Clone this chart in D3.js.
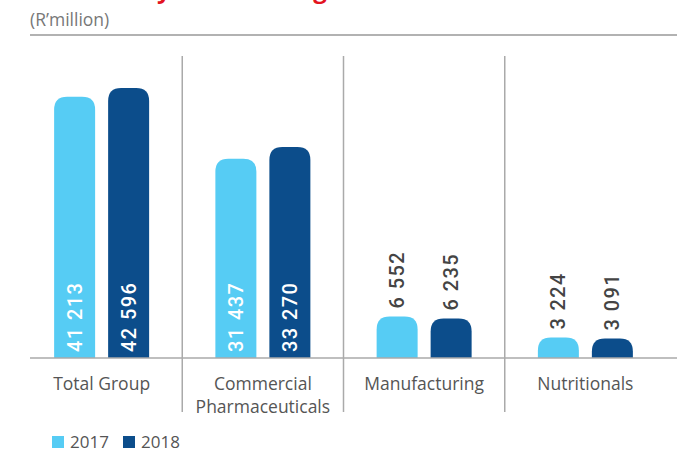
<!DOCTYPE html>
<html>
<head>
<meta charset="utf-8">
<script src="https://cdn.jsdelivr.net/npm/d3@7"></script>
<style>
  body { margin: 0; background: #fff; }
  svg { display: block; }
</style>
</head>
<body>
<div id="chart"></div>
<script>
const categories = ["Total Group", "Commercial Pharmaceuticals", "Manufacturing", "Nutritionals"];
const categoryLines = [["Total Group"], ["Commercial", "Pharmaceuticals"], ["Manufacturing"], ["Nutritionals"]];
const years = ["2017", "2018"];
const values2017 = [41213, 31437, 6552, 3224];
const values2018 = [42596, 33270, 6235, 3091];
const colors = ["#56ccf4", "#0c4d8b"];

const width = 677, height = 452;
const baseY = 358;

const svg = d3.select("#chart")
  .append("svg")
  .attr("width", width)
  .attr("height", height);

const data = categories.map((c, i) => ({ cat: c, vals: [values2017[i], values2018[i]] }));
const fmt = v => d3.format(",")(v).replace(/,/g, " ");

const x0 = d3.scaleBand().domain(categories).range([21, 666]);
const x1 = d3.scaleBand().domain(years).range([0, 95]).paddingInner(13 / 54);
const y = d3.scaleLinear()
  .domain([0, d3.max(values2018.concat(values2017))])
  .range([baseY, 88]);

// cut-off title at very top
svg.append("text")
  .attr("x", 32)
  .attr("y", -2)
  .attr("fill", "#e3141f")
  .attr("font-family", "Open Sans")
  .attr("font-weight", 700)
  .attr("font-size", 24)
  .text("Revenue by business segment");

svg.append("text")
  .attr("x", 30)
  .attr("y", 26)
  .attr("fill", "#777")
  .attr("font-family", "Open Sans")
  .attr("font-size", 17.5)
  .text("(R\u2019million)");

svg.append("line")
  .attr("x1", 30).attr("x2", width)
  .attr("y1", 35).attr("y2", 35)
  .attr("stroke", "#999").attr("stroke-width", 1.5);

// separators between groups
svg.append("g")
  .selectAll("line")
  .data(categories.slice(1))
  .join("line")
  .attr("x1", d => x0(d)).attr("x2", d => x0(d))
  .attr("y1", 56).attr("y2", 412)
  .attr("stroke", "#aaa").attr("stroke-width", 1.5);

const off = (x0.bandwidth() - 95) / 2;
const r = 13;
const barPath = (x, w, yt) => {
  const h = baseY - yt, rr = Math.min(r, h, w / 2);
  return `M${x},${baseY}V${yt + rr}Q${x},${yt} ${x + rr},${yt}H${x + w - rr}Q${x + w},${yt} ${x + w},${yt + rr}V${baseY}Z`;
};

const groups = svg.append("g")
  .selectAll("g")
  .data(data)
  .join("g")
  .attr("transform", d => `translate(${x0(d.cat) + off},0)`);

groups.selectAll("path")
  .data(d => d.vals.map((v, i) => ({ year: years[i], v, i })))
  .join("path")
  .attr("fill", d => colors[d.i])
  .attr("d", d => barPath(x1(d.year), x1.bandwidth(), y(d.v)));

groups.selectAll("text")
  .data(d => d.vals.map((v, i) => ({ year: years[i], v, i })))
  .join("text")
  .attr("transform", d => {
    const cx = x1(d.year) + x1.bandwidth() / 2;
    const inside = baseY - y(d.v) > 90;
    const ty = inside ? baseY - 6 : y(d.v) - 8;
    return `translate(${cx},${ty}) rotate(-90)`;
  })
  .attr("dominant-baseline", "central")
  .attr("font-family", "Roboto")
  .attr("font-weight", 500)
  .attr("font-size", 20)
  .attr("letter-spacing", 1.4)
  .attr("fill", d => baseY - y(d.v) > 90 ? "#fff" : "#444")
  .text(d => fmt(d.v));

svg.append("line")
  .attr("x1", 30).attr("x2", width)
  .attr("y1", baseY).attr("y2", baseY)
  .attr("stroke", "#aaa").attr("stroke-width", 1.5);

svg.append("g")
  .selectAll("text")
  .data(categories)
  .join("text")
  .attr("x", d => x0(d) + x0.bandwidth() / 2)
  .attr("y", 390)
  .attr("text-anchor", "middle")
  .attr("font-family", "Open Sans")
  .attr("font-size", 17.5)
  .attr("fill", "#555")
  .selectAll("tspan")
  .data((d, i) => categoryLines[i])
  .join("tspan")
  .attr("x", function() { return this.parentNode.getAttribute("x"); })
  .attr("dy", (d, i) => i ? 23 : 0)
  .text(d => d);

// legend
const legend = svg.append("g")
  .selectAll("g")
  .data(years)
  .join("g")
  .attr("transform", (d, i) => `translate(${52 + i * 71},436)`);

legend.append("rect")
  .attr("width", 12).attr("height", 12)
  .attr("fill", (d, i) => colors[i]);

legend.append("text")
  .attr("x", 18).attr("y", 12)
  .attr("font-family", "Open Sans")
  .attr("font-size", 17)
  .attr("fill", "#555")
  .text(d => d);
</script>
</body>
</html>
